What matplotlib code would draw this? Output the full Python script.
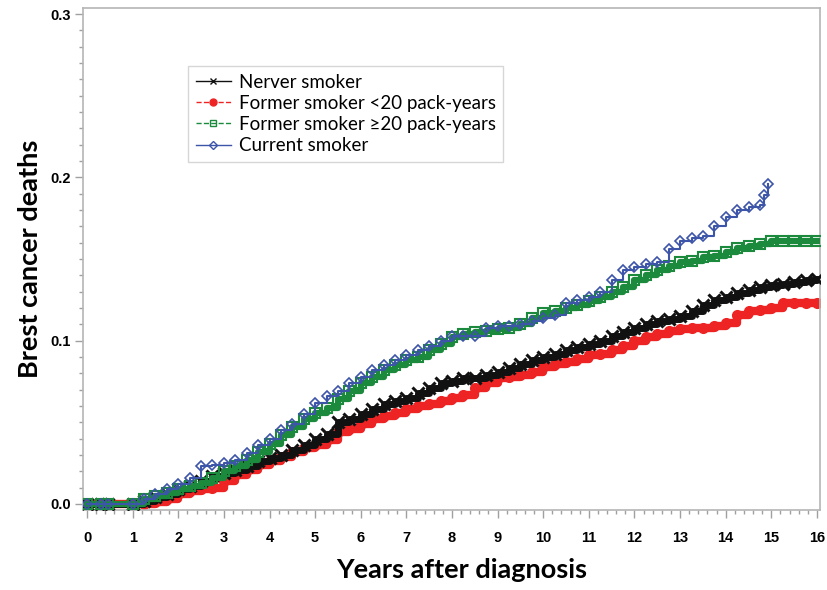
import numpy as np
import matplotlib.pyplot as plt
from matplotlib.lines import Line2D

# time grid (years) and cumulative incidence
start_years = [0.0, 0.3, 0.45]
years = list(np.arange(1.0, 16.01, 0.25))

never = [0.000, 0.002, 0.004, 0.006, 0.009, 0.011, 0.014, 0.017, 0.019, 0.021,
         0.023, 0.026, 0.028, 0.030, 0.033, 0.036, 0.040, 0.043, 0.050, 0.052,
         0.055, 0.058, 0.061, 0.063, 0.065, 0.068, 0.071, 0.074, 0.075, 0.077,
         0.077, 0.079, 0.081, 0.083, 0.086, 0.088, 0.090, 0.092, 0.094, 0.096,
         0.098, 0.100, 0.103, 0.105, 0.108, 0.110, 0.112, 0.113, 0.115, 0.118,
         0.122, 0.125, 0.127, 0.129, 0.131, 0.133, 0.134, 0.135, 0.136, 0.137,
         0.138]

former_lt20 = [0.000, 0.000, 0.001, 0.003, 0.006, 0.008, 0.009, 0.010, 0.014, 0.018,
               0.021, 0.024, 0.026, 0.029, 0.032, 0.034, 0.036, 0.039, 0.044, 0.046,
               0.049, 0.052, 0.054, 0.056, 0.058, 0.060, 0.061, 0.063, 0.065, 0.067,
               0.071, 0.074, 0.077, 0.078, 0.079, 0.081, 0.084, 0.086, 0.087, 0.089,
               0.091, 0.092, 0.094, 0.097, 0.100, 0.102, 0.104, 0.106, 0.107, 0.108,
               0.108, 0.109, 0.111, 0.116, 0.118, 0.119, 0.120, 0.123, 0.123, 0.123,
               0.123]

former_ge20 = [0.000, 0.003, 0.005, 0.007, 0.009, 0.011, 0.013, 0.016, 0.020, 0.023,
               0.027, 0.032, 0.037, 0.042, 0.047, 0.052, 0.056, 0.059, 0.064, 0.069,
               0.074, 0.078, 0.082, 0.085, 0.088, 0.090, 0.094, 0.098, 0.102, 0.104,
               0.105, 0.106, 0.107, 0.108, 0.110, 0.114, 0.117, 0.118, 0.120, 0.122,
               0.124, 0.127, 0.130, 0.133, 0.137, 0.140, 0.143, 0.146, 0.148, 0.149,
               0.151, 0.152, 0.154, 0.157, 0.158, 0.159, 0.161, 0.161, 0.161, 0.161,
               0.161]

current_years = years[:56] + [14.85, 14.93]
current = [0.000, 0.003, 0.006, 0.009, 0.012, 0.016, 0.023, 0.024, 0.025, 0.027,
           0.031, 0.036, 0.040, 0.045, 0.049, 0.055, 0.062, 0.066, 0.069, 0.074,
           0.078, 0.082, 0.085, 0.088, 0.091, 0.094, 0.097, 0.100, 0.103, 0.103,
           0.103, 0.108, 0.109, 0.109, 0.110, 0.112, 0.114, 0.116, 0.123, 0.125,
           0.127, 0.130, 0.137, 0.143, 0.145, 0.147, 0.148, 0.156, 0.161, 0.163,
           0.164, 0.170, 0.176, 0.180, 0.182, 0.183, 0.189, 0.196]

labels = ['Nerver smoker', 'Former smoker <20 pack-years',
          'Former smoker \u226520 pack-years', 'Current smoker']

c_black = '#111111'
c_red = '#ee2424'
c_green = '#1b8a3c'
c_blue = '#3d55a8'

fig = plt.figure(figsize=(8.27, 5.90), dpi=100)
ax = fig.add_axes([0.1004, 0.1356, 0.8911, 0.8508])

z = [0.0] * len(start_years)

# red: former <20
ax.plot(start_years + years, z + former_lt20, drawstyle='steps-post', color=c_red,
        lw=6, marker='o', ms=7, mfc=c_red, mec=c_red, zorder=2)
# black: never
ax.plot(start_years + years, z + never, drawstyle='steps-post', color=c_black,
        lw=5, marker='x', ms=8, mew=2.2, zorder=3)
# green: former >=20
ax.plot(start_years + years, z + former_ge20, drawstyle='steps-post', color=c_green,
        lw=4.5, marker='s', ms=7, mfc='none', mec=c_green, mew=1.5, zorder=4)
# blue: current
ax.plot(start_years + current_years, z + current, drawstyle='steps-post', color=c_blue,
        lw=1.5, marker='D', ms=5, mfc='none', mec=c_blue, mew=1.2, zorder=5)

ax.set_xlim(-0.088, 16.066)
ax.set_ylim(-0.0037, 0.3037)
ax.set_xticks(range(0, 17))
ax.set_xticks(np.arange(0, 16.01, 0.2), minor=True)
ax.set_yticks([0.0, 0.1, 0.2, 0.3])
ax.set_yticklabels(['0.0', '0.1', '0.2', '0.3'])
ax.set_yticks(np.arange(0, 0.301, 0.01), minor=True)

for s in ax.spines.values():
    s.set_color('#b5b5b5')
    s.set_linewidth(1.2)

ax.tick_params(axis='both', which='major', length=6, color='#a0a0a0', width=1)
ax.tick_params(axis='both', which='minor', length=3, color='#a0a0a0', width=1)
ax.tick_params(axis='x', which='major', pad=9)
ax.tick_params(axis='y', which='major', pad=3)
for lab in ax.get_xticklabels() + ax.get_yticklabels():
    lab.set_fontfamily('Liberation Sans')
    lab.set_fontweight('bold')
    lab.set_fontsize(10.5)

ax.set_xlabel('Years after diagnosis', fontfamily='Lato', fontweight='bold',
              fontsize=19.5, labelpad=10)
ax.xaxis.set_label_coords(0.514, -0.095)
ax.set_ylabel('Brest cancer deaths', fontfamily='Lato', fontweight='bold',
              fontsize=19.5, labelpad=6)

handles = [
    Line2D([], [], color=c_black, lw=1, marker='x', ms=5, mew=1),
    Line2D([], [], color=c_red, lw=1, ls='--', marker='o', ms=5),
    Line2D([], [], color=c_green, lw=1, ls='--', marker='s', ms=5, mfc='none'),
    Line2D([], [], color=c_blue, lw=1, marker='D', ms=4, mfc='none'),
]
leg = ax.legend(handles, labels, loc='upper left', bbox_to_anchor=(0.1425, 0.884),
                frameon=True, fancybox=False, borderaxespad=0, handlelength=1.9,
                handletextpad=0.4, labelspacing=0.22, borderpad=0.4,
                prop={'family': 'Lato', 'size': 13.5})
leg.get_frame().set_edgecolor('#cccccc')
leg.get_frame().set_linewidth(1)

fig.savefig('out.png', dpi=100)
